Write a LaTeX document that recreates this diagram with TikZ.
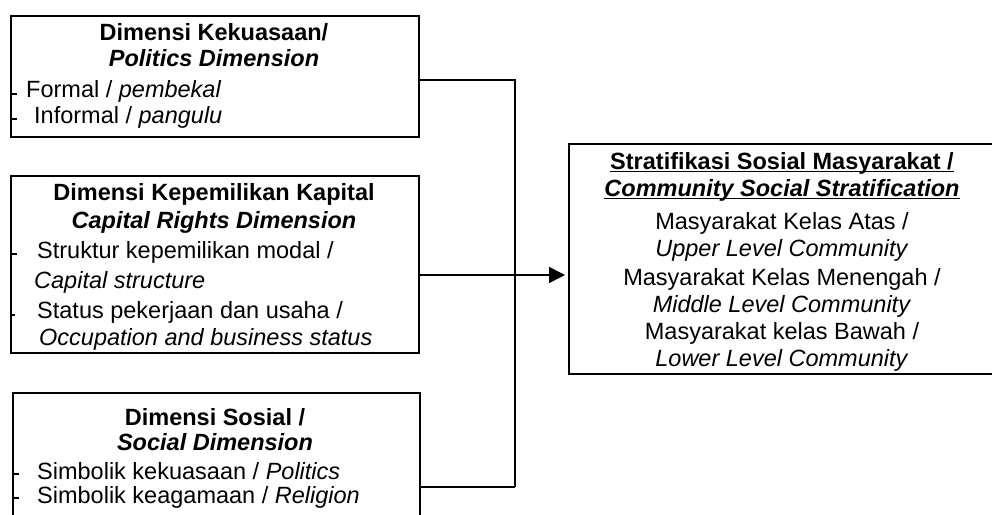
\documentclass[tikz,border=0pt]{standalone}
\usepackage{fontspec}
\setmainfont{Liberation Sans}
\usetikzlibrary{arrows.meta}
\begin{document}
\begin{tikzpicture}[x=1pt,y=-1pt,
  box/.style={draw, line width=1.6pt, inner sep=0pt, anchor=north west},
  txt/.style={inner sep=0pt, font=\fontsize{23.5}{27}\selectfont},
  ttl/.style={txt, anchor=base},
  itm/.style={txt, anchor=base west},
  link/.style={line width=1.6pt},
  tick/.style={line width=1.4pt},
  uline/.style={line width=1.4pt}]
\useasboundingbox (0,0) rectangle (992,514);

% frames of the four boxes
\node[box, minimum width=408pt, minimum height=121pt] (b1) at (10,15) {};
\node[box, minimum width=408pt, minimum height=177pt] (b2) at (10,175) {};
\node[box, minimum width=407pt, minimum height=130pt] (b3) at (12,392) {};
\node[box, minimum width=428pt, minimum height=230pt] (res) at (568,143) {};

% politics dimension
\node[ttl] (b1t1) at (214,40) {\textbf{Dimensi Kekuasaan/}};
\node[ttl] (b1t2) at (214,66) {\textbf{\textit{Politics Dimension}}};
\node[itm] (b1i1) at (26,97) {Formal / \textit{pembekal}};
\node[itm] (b1i2) at (34,123) {Informal / \textit{pangulu}};
\draw[tick] (10,94) -- ++(7,0);
\draw[tick] (10,119) -- ++(7,0);

% capital rights dimension
\node[ttl] (b2t1) at (214,200) {\textbf{Dimensi Kepemilikan Kapital}};
\node[ttl] (b2t2) at (214,228) {\textbf{\textit{Capital Rights Dimension}}};
\node[itm] (b2i1) at (37,258) {Struktur kepemilikan modal /};
\node[itm] (b2i2) at (34,288) {\textit{Capital structure}};
\node[itm] (b2i3) at (37,318) {Status pekerjaan dan usaha /};
\node[itm] (b2i4) at (39,345) {\textit{Occupation and business status}};
\draw[tick] (10,254) -- ++(7,0);
\draw[tick] (10,315) -- ++(5,0);

% social dimension
\node[ttl] (b3t1) at (215,425) {\textbf{Dimensi Sosial /}};
\node[ttl] (b3t2) at (215,450) {\textbf{\textit{Social Dimension}}};
\node[itm] (b3i1) at (37,479) {Simbolik kekuasaan / \textit{Politics}};
\node[itm] (b3i2) at (37,503) {Simbolik keagamaan / \textit{Religion}};
\draw[tick] (12,474) -- ++(7,0);
\draw[tick] (12,498) -- ++(7,0);

% community social stratification
\node[ttl] (r1) at (782,169) {\textbf{Stratifikasi Sosial Masyarakat /}};
\node[ttl] (r2) at (782,196) {\textbf{\textit{Community Social Stratification}}};
\draw[uline] ([yshift=-2.5pt]r1.base west) -- ([yshift=-2.5pt]r1.base east);
\draw[uline] ([yshift=-2.5pt]r2.base west) -- ([yshift=-2.5pt]r2.base east);
\node[ttl] (r3) at (782,229) {Masyarakat Kelas Atas /};
\node[ttl] (r4) at (782,256) {\textit{Upper Level Community}};
\node[ttl] (r5) at (782,285) {Masyarakat Kelas Menengah /};
\node[ttl] (r6) at (782,312) {\textit{Middle Level Community}};
\node[ttl] (r7) at (782,339) {Masyarakat kelas Bawah /};
\node[ttl] (r8) at (782,366) {\textit{Lower Level Community}};

% connectors
\coordinate (j1) at (515,80);
\coordinate (j3) at (515,487);
\coordinate (ay) at (490,275);
\draw[link] (b1.east |- j1) -- (j1) -- (j3);
\draw[link] (b3.east |- j3) -- (j3);
\draw[link, -{Triangle[length=16pt,width=16pt]}] (b2.east |- ay) -- ([xshift=-3pt]res.west |- ay);
\end{tikzpicture}
\end{document}
